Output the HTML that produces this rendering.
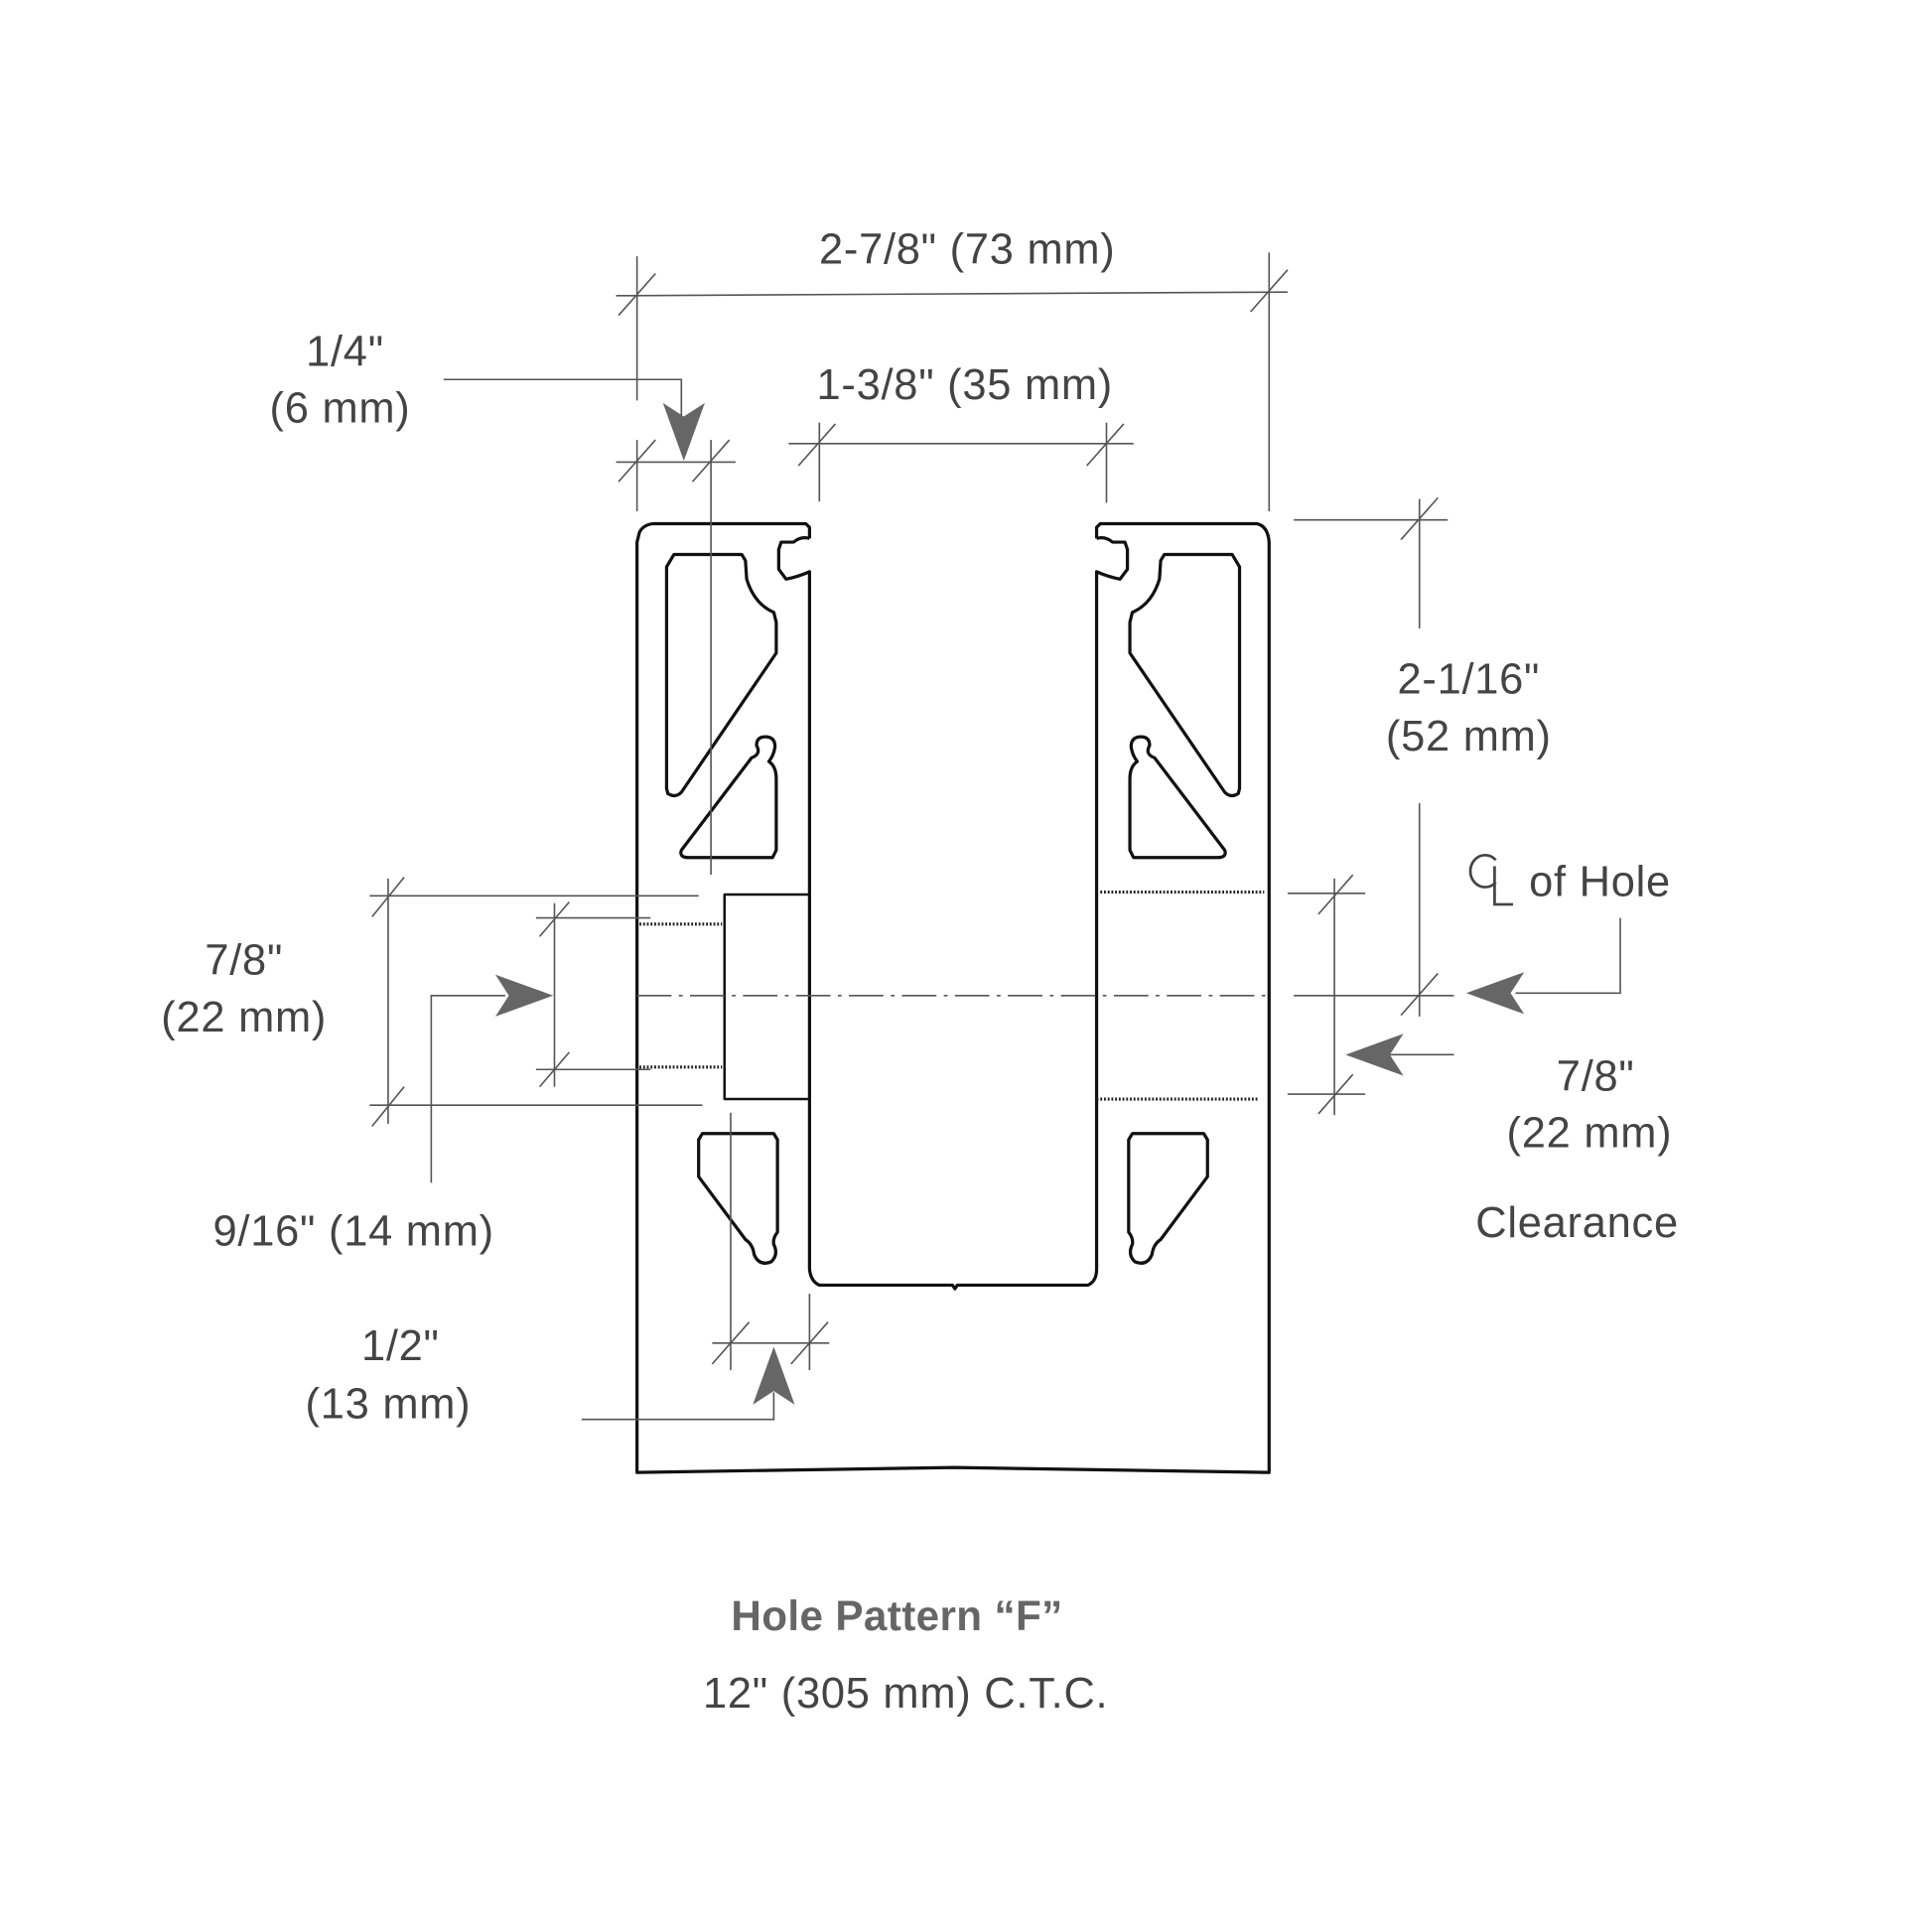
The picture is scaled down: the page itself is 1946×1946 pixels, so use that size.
<!DOCTYPE html>
<html><head><meta charset="utf-8"><style>
html,body{margin:0;padding:0;background:#fff;}
svg{display:block}
text{font-family:"Liberation Sans",sans-serif;fill:#444;}
</style></head><body>
<svg width="1946" height="1946" viewBox="0 0 1568 1568" xmlns="http://www.w3.org/2000/svg">
<defs>
<path id="ar" d="M0,0 L-47,-17 L-36,0 L-47,17 Z" fill="#666"/>
</defs>
<g fill="none" stroke="#111" stroke-width="2.6" stroke-linejoin="round">
<path d="M657,437 L657,428 L654,425 L530,425 Q522,426 519,432 L517,440 L517,1195 L775,1191 L1030,1195 L1030,440 Q1029,427 1020,425 L893,425 L890,428 L890,437"/>
<path d="M657,437 Q650,435 644,440 L634,440 L632,446 L632,462 L638,470 Q648,468 657,464 L657,1030 Q658,1040 665,1043 L773,1043 L775,1046 L777,1043 L883,1043 Q890,1040 890,1030 L890,464 Q899,468 909,470 L915,462 L915,446 L913,440 L903,440 Q897,435 890,437"/>
<path d="M541,460 L547,450 L602,450 L605,455 L606,470 Q612,490 628,497 L630,505 L630,530 L553,643 Q548,648 542,644 L541,640 Z"/>
<path d="M553,690 L610,615 Q618,612 614,605 Q614,598 621,598 Q629,598 629,606 Q628,613 624,618 Q630,622 630,632 L630,690 L627,696 L559,696 Q551,696 553,690 Z"/>
<path d="M567,925 L570,920 L628,920 L631,925 L631,1000 Q627,1005 628,1010 Q632,1018 626,1024 Q616,1028 612,1018 Q611,1010 605,1006 L567,955 Z"/>
<g transform="translate(1547,0) scale(-1,1)">
<path d="M541,460 L547,450 L602,450 L605,455 L606,470 Q612,490 628,497 L630,505 L630,530 L553,643 Q548,648 542,644 L541,640 Z"/>
<path d="M553,690 L610,615 Q618,612 614,605 Q614,598 621,598 Q629,598 629,606 Q628,613 624,618 Q630,622 630,632 L630,690 L627,696 L559,696 Q551,696 553,690 Z"/>
<path d="M567,925 L570,920 L628,920 L631,925 L631,1000 Q627,1005 628,1010 Q632,1018 626,1024 Q616,1028 612,1018 Q611,1010 605,1006 L567,955 Z"/>
</g>
<path d="M657,726 L588,726 L588,892 L657,892" stroke-width="2"/>
</g>
<g stroke="#222" stroke-width="2.5" stroke-dasharray="1.5,1.5">
<line x1="519" y1="750" x2="586" y2="750"/><line x1="519" y1="866" x2="586" y2="866"/>
<line x1="893" y1="724" x2="1026" y2="724"/><line x1="890" y1="892" x2="1022" y2="892"/>
</g>
<line x1="517" y1="808" x2="1030" y2="808" stroke="#555" stroke-width="1.3" stroke-dasharray="28,6,3,6"/>
<g stroke="#555" stroke-width="1.3" fill="none">
<line x1="500" y1="240" x2="1045" y2="237"/>
<line x1="517" y1="208" x2="517" y2="325"/><line x1="1030" y1="205" x2="1030" y2="415"/>
<line x1="502" y1="256" x2="532" y2="222"/><line x1="1015" y1="253" x2="1045" y2="219"/>
<line x1="500" y1="375" x2="597" y2="375"/>
<line x1="517" y1="357" x2="517" y2="415"/><line x1="577" y1="357" x2="577" y2="710"/>
<line x1="502" y1="391" x2="532" y2="357"/><line x1="562" y1="391" x2="592" y2="357"/>
<polyline points="360,308 553,308 553,340"/>
<line x1="640" y1="360" x2="920" y2="360"/>
<line x1="665" y1="343" x2="665" y2="407"/><line x1="898" y1="343" x2="898" y2="408"/>
<line x1="648" y1="378" x2="678" y2="344"/><line x1="882" y1="378" x2="912" y2="344"/>
<line x1="1050" y1="422" x2="1175" y2="422"/>
<line x1="1152" y1="405" x2="1152" y2="510"/><line x1="1152" y1="652" x2="1152" y2="825"/>
<line x1="1137" y1="438" x2="1167" y2="404"/><line x1="1137" y1="824" x2="1167" y2="790"/>
<line x1="1050" y1="808" x2="1180" y2="808"/>
<polyline points="1230,806 1315,806 1315,745"/>
<line x1="1045" y1="725" x2="1108" y2="725"/><line x1="1045" y1="888" x2="1108" y2="888"/>
<line x1="1083" y1="713" x2="1083" y2="905"/>
<line x1="1070" y1="742" x2="1098" y2="710"/><line x1="1070" y1="904" x2="1098" y2="872"/>
<line x1="1120" y1="856" x2="1180" y2="856"/>
<line x1="300" y1="727" x2="567" y2="727"/><line x1="300" y1="897" x2="570" y2="897"/>
<line x1="315" y1="713" x2="315" y2="912"/>
<line x1="302" y1="744" x2="328" y2="712"/><line x1="302" y1="914" x2="328" y2="882"/>
<line x1="435" y1="745" x2="528" y2="745"/><line x1="435" y1="868" x2="528" y2="868"/>
<line x1="450" y1="733" x2="450" y2="882"/>
<line x1="438" y1="760" x2="462" y2="732"/><line x1="438" y1="882" x2="462" y2="854"/>
<polyline points="350,960 350,808 410,808"/>
<line x1="593" y1="903" x2="593" y2="1112"/><line x1="657" y1="1050" x2="657" y2="1112"/>
<line x1="578" y1="1090" x2="673" y2="1090"/>
<line x1="578" y1="1107" x2="608" y2="1073"/><line x1="642" y1="1107" x2="672" y2="1073"/>
<polyline points="472,1152 628,1152 628,1130"/>
</g>
<use href="#ar" transform="translate(555,374) rotate(90)"/>
<use href="#ar" transform="translate(1190,806) rotate(180)"/>
<use href="#ar" transform="translate(1092,856) rotate(180)"/>
<use href="#ar" transform="translate(449,808)"/>
<use href="#ar" transform="translate(628,1093) rotate(-90)"/>
<g font-size="35" letter-spacing="0.6">
<text x="785" y="214" text-anchor="middle">2-7/8" (73 mm)</text>
<text x="783" y="324" text-anchor="middle">1-3/8" (35 mm)</text>
<text x="280" y="297" text-anchor="middle">1/4"</text>
<text x="276" y="343" text-anchor="middle">(6 mm)</text>
<text x="1192" y="563" text-anchor="middle">2-1/16"</text>
<text x="1192" y="609" text-anchor="middle">(52 mm)</text>
<text x="1241" y="727">of Hole</text>
<text x="1295" y="885" text-anchor="middle">7/8"</text>
<text x="1290" y="931" text-anchor="middle">(22 mm)</text>
<text x="1280" y="1004" text-anchor="middle">Clearance</text>
<text x="198" y="791" text-anchor="middle">7/8"</text>
<text x="198" y="837" text-anchor="middle">(22 mm)</text>
<text x="287" y="1011" text-anchor="middle">9/16" (14 mm)</text>
<text x="325" y="1104" text-anchor="middle">1/2"</text>
<text x="315" y="1151" text-anchor="middle">(13 mm)</text>
<text x="728" y="1323" text-anchor="middle" font-weight="bold" style="fill:#666" font-size="34" letter-spacing="0.3">Hole Pattern “F”</text>
<text x="735" y="1386" text-anchor="middle">12" (305 mm) C.T.C.</text>
</g>
<g fill="none" stroke="#444" stroke-width="2.2">
<path d="M1214,698 A 12 13 0 1 0 1214,716"/>
<path d="M1213,703 L1213,734 L1228,734"/>
</g>
</svg>
</body></html>
